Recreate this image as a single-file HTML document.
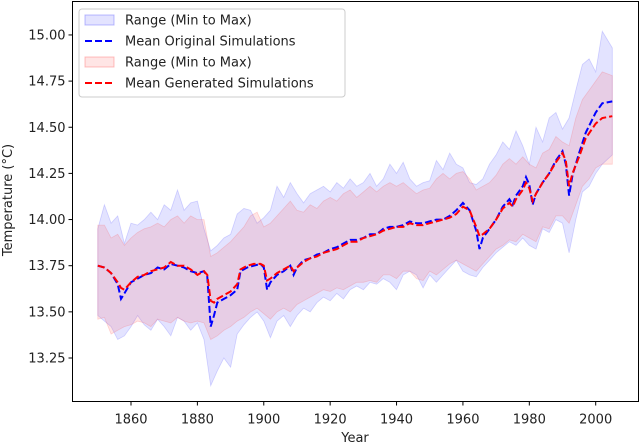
<!DOCTYPE html>
<html><head><meta charset="utf-8"><style>
body{margin:0;background:#fff;}
svg{display:block;font-family:"DejaVu Sans","Liberation Sans",sans-serif;}
</style></head><body>
<svg id="chart" width="640" height="444" viewBox="0 0 640 444" xmlns="http://www.w3.org/2000/svg"></svg>
<script>
const meanYears=[1850,1852,1854,1856,1857,1858,1860,1862,1864,1866,1868,1870,1872,1874,1876,1878,1880,1882,1883,1884,1885,1886,1888,1890,1892,1893,1895,1897,1899,1900,1901,1902,1904,1906,1908,1909,1910,1912,1914,1916,1918,1920,1922,1924,1926,1928,1930,1932,1934,1936,1938,1940,1942,1944,1946,1948,1950,1952,1954,1956,1958,1960,1962,1964,1965,1966,1968,1970,1972,1974,1975,1976,1978,1979,1980,1981,1982,1984,1986,1988,1990,1991,1992,1993,1995,1997,2000,2002,2005];
const meanOriginal=[13.75,13.74,13.71,13.65,13.57,13.60,13.66,13.68,13.70,13.71,13.74,13.73,13.76,13.75,13.74,13.72,13.71,13.72,13.69,13.42,13.48,13.55,13.57,13.59,13.62,13.72,13.74,13.75,13.76,13.74,13.62,13.66,13.70,13.72,13.75,13.70,13.74,13.78,13.79,13.81,13.82,13.84,13.85,13.87,13.89,13.89,13.90,13.92,13.92,13.95,13.96,13.96,13.97,13.99,13.98,13.98,13.99,14.00,14.00,14.02,14.05,14.09,14.05,13.94,13.84,13.90,13.95,14.00,14.07,14.11,14.08,14.13,14.18,14.23,14.19,14.08,14.14,14.20,14.25,14.32,14.37,14.30,14.13,14.24,14.36,14.47,14.58,14.63,14.64];
const meanGenerated=[13.75,13.74,13.71,13.66,13.63,13.62,13.66,13.69,13.70,13.72,13.73,13.74,13.77,13.75,13.75,13.73,13.70,13.72,13.70,13.56,13.55,13.57,13.59,13.61,13.65,13.73,13.75,13.76,13.76,13.75,13.67,13.68,13.71,13.73,13.75,13.72,13.74,13.77,13.79,13.80,13.82,13.83,13.84,13.86,13.88,13.88,13.90,13.91,13.92,13.94,13.95,13.96,13.96,13.98,13.97,13.97,13.98,13.99,14.00,14.01,14.03,14.07,14.05,13.96,13.91,13.92,13.95,14.00,14.06,14.09,14.07,14.11,14.16,14.20,14.17,14.10,14.14,14.20,14.25,14.31,14.36,14.32,14.18,14.25,14.34,14.44,14.52,14.55,14.56];
const bandYears=[1850,1852,1854,1856,1858,1860,1862,1864,1866,1868,1870,1872,1874,1876,1878,1880,1882,1884,1886,1888,1890,1892,1894,1896,1898,1900,1902,1904,1906,1908,1910,1912,1914,1916,1918,1920,1922,1924,1926,1928,1930,1932,1934,1936,1938,1940,1942,1944,1946,1948,1950,1952,1954,1956,1958,1960,1962,1964,1966,1968,1970,1972,1974,1976,1978,1980,1982,1984,1986,1988,1990,1992,1994,1996,1998,2000,2002,2005];
const origMax=[13.95,14.08,13.98,14.02,13.87,13.98,13.97,14.00,14.04,14.00,14.08,14.05,14.16,14.05,14.09,14.10,13.95,13.83,13.86,13.90,13.92,14.03,14.06,14.05,13.98,14.01,14.05,14.18,14.12,14.20,14.14,14.09,14.14,14.16,14.18,14.15,14.20,14.17,14.22,14.18,14.20,14.25,14.18,14.22,14.30,14.25,14.31,14.22,14.18,14.20,14.21,14.32,14.27,14.36,14.30,14.28,14.20,14.19,14.22,14.30,14.35,14.42,14.38,14.48,14.40,14.30,14.50,14.42,14.55,14.58,14.49,14.55,14.70,14.84,14.87,14.80,15.02,14.93];
const origMin=[13.48,13.45,13.42,13.35,13.37,13.42,13.48,13.43,13.40,13.46,13.42,13.37,13.47,13.45,13.40,13.44,13.35,13.10,13.18,13.25,13.20,13.38,13.43,13.47,13.50,13.45,13.36,13.45,13.48,13.42,13.48,13.52,13.50,13.55,13.58,13.56,13.60,13.57,13.62,13.64,13.62,13.66,13.65,13.68,13.66,13.62,13.70,13.72,13.70,13.63,13.70,13.66,13.70,13.74,13.78,13.72,13.70,13.69,13.74,13.78,13.82,13.85,13.88,13.86,13.90,13.86,13.84,13.95,13.93,14.00,13.98,13.82,14.00,14.15,14.18,14.25,14.30,14.35];
const genMax=[13.97,13.97,13.90,13.92,13.86,13.90,13.93,13.95,13.96,13.98,13.96,14.00,14.02,13.98,14.02,14.00,14.00,13.80,13.82,13.85,13.88,13.92,13.96,14.02,14.04,13.96,13.98,14.02,14.06,14.10,14.05,14.04,14.08,14.06,14.10,14.12,14.10,14.14,14.16,14.12,14.15,14.18,14.15,14.18,14.20,14.18,14.20,14.17,14.14,14.16,14.17,14.22,14.25,14.22,14.25,14.26,14.22,14.16,14.18,14.20,14.24,14.30,14.33,14.30,14.34,14.30,14.28,14.36,14.38,14.45,14.42,14.40,14.55,14.65,14.70,14.75,14.80,14.78];
const genMin=[13.46,13.47,13.38,13.40,13.42,13.43,13.45,13.44,13.42,13.46,13.45,13.44,13.47,13.45,13.44,13.45,13.44,13.35,13.37,13.40,13.42,13.45,13.47,13.50,13.52,13.49,13.46,13.50,13.52,13.50,13.54,13.56,13.58,13.60,13.62,13.61,13.63,13.62,13.64,13.66,13.66,13.67,13.66,13.70,13.70,13.68,13.72,13.72,13.68,13.67,13.72,13.70,13.73,13.76,13.78,13.76,13.74,13.72,13.76,13.80,13.84,13.86,13.89,13.88,13.92,13.90,13.88,13.96,13.95,14.02,14.02,13.98,14.08,14.18,14.22,14.28,14.30,14.30];
const xTicks=[1860,1880,1900,1920,1940,1960,1980,2000];
const yTicks=[13.25,13.50,13.75,14.00,14.25,14.50,14.75,15.00];

const svg=document.getElementById('chart');
const NS='http://www.w3.org/2000/svg';
const L=72.5,R=638.5,T=1.5,B=401.5;
const x=y=>131+(y-1860)*(595.7-131)/140;
const yS=v=>358-(v-13.25)*184.6;
function mk(tag,attrs,parent){const e=document.createElementNS(NS,tag);for(const k in attrs)e.setAttribute(k,attrs[k]);(parent||svg).appendChild(e);return e;}
const clip=mk('clipPath',{id:'pc'});mk('rect',{x:L,y:T,width:R-L,height:B-T},clip);
const plot=mk('g',{'clip-path':'url(#pc)'});


function band(mx,mn,fill,stroke,name){
  let d='M'+bandYears.map((yr,i)=>x(yr).toFixed(1)+','+yS(mx[i]).toFixed(1)).join('L');
  for(let i=bandYears.length-1;i>=0;i--)d+='L'+x(bandYears[i]).toFixed(1)+','+yS(mn[i]).toFixed(1);
  const p=mk('path',{d:d+'Z',fill:fill,stroke:stroke,'stroke-width':0.8},plot);
  
  
}
band(origMax,origMin,'rgba(90,90,255,0.17)','rgba(90,90,255,0.25)','original-range-band');
band(genMax,genMin,'rgba(255,80,80,0.15)','rgba(255,80,80,0.22)','generated-range-band');
function line(vals,color,name){
  const d='M'+meanYears.map((yr,i)=>x(yr).toFixed(1)+','+yS(vals[i]).toFixed(1)).join('L');
  const p=mk('path',{d:d,fill:'none',stroke:color,'stroke-width':2,'stroke-dasharray':'7,3'},plot);
  
  
}
line(meanOriginal,'#0000ff','mean-original-line');
line(meanGenerated,'#ff0000','mean-generated-line');
const frame=mk('rect',{x:L,y:T,width:R-L,height:B-T,fill:'none',stroke:'#000','stroke-width':1});


xTicks.forEach(t=>{
  const g=mk('g',{});
  
  
  mk('line',{x1:x(t),x2:x(t),y1:B,y2:B+4,stroke:'#000'},g);
  const tx=mk('text',{x:x(t),y:B+22,'text-anchor':'middle','font-size':13,fill:'#222'},g);tx.textContent=t;
});
yTicks.forEach(t=>{
  const g=mk('g',{});
  
  
  mk('line',{x1:L-4,x2:L,y1:yS(t),y2:yS(t),stroke:'#000'},g);
  const tx=mk('text',{x:L-7,y:yS(t)+4.5,'text-anchor':'end','font-size':13,fill:'#222'},g);tx.textContent=t.toFixed(2);
});
const xl=mk('text',{x:355,y:442,'text-anchor':'middle','font-size':13,fill:'#222'});xl.textContent='Year';

const yl=mk('text',{x:0,y:0,transform:'translate(12,200) rotate(-90)','text-anchor':'middle','font-size':13,fill:'#222'});yl.textContent='Temperature (°C)';

const lg=mk('g',{});


mk('rect',{x:79,y:9,width:266,height:88,rx:3,fill:'rgba(255,255,255,0.85)',stroke:'#ccc'},lg);
const entries=[['patch','rgba(90,90,255,0.17)','rgba(90,90,255,0.4)','Range (Min to Max)'],['line','#0000ff','','Mean Original Simulations'],['patch','rgba(255,80,80,0.15)','rgba(255,80,80,0.35)','Range (Min to Max)'],['line','#ff0000','','Mean Generated Simulations']];
entries.forEach((e,i)=>{
  const cy=20+i*21;
  const g=mk('g',{},lg);
  
  
  if(e[0]==='patch')mk('rect',{x:85,y:cy-5,width:29,height:10,fill:e[1],stroke:e[2]},g);
  else mk('line',{x1:85,x2:114,y1:cy,y2:cy,stroke:e[1],'stroke-width':2,'stroke-dasharray':'7,3'},g);
  const t=mk('text',{x:125,y:cy+4.5,'font-size':13,fill:'#222'},g);t.textContent=e[3];
});
</script>
</body></html>
